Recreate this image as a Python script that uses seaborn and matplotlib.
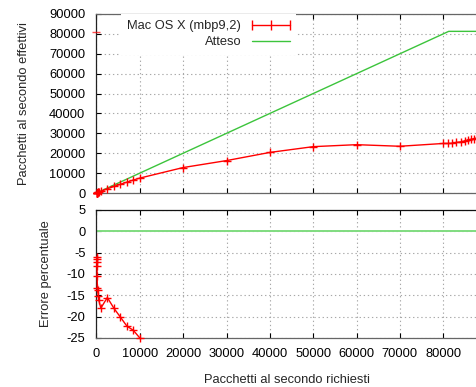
import numpy as np
import pandas as pd
import matplotlib
matplotlib.use("Agg")
import matplotlib.pyplot as plt
import seaborn as sns
from matplotlib.lines import Line2D
from matplotlib.legend_handler import HandlerLine2D

# Pacchetti al secondo richiesti / effettivi (Mac OS X, mbp9,2)
richiesti = [10, 25, 50, 100, 150, 200, 300, 400, 550, 1000,
             2500, 4000, 5500, 7000, 8500, 10000,
             20000, 30000, 40000, 50000, 60000, 70000, 80000,
             81000, 82000, 83000, 84000, 85000, 85700, 86500, 87200, 87800]
effettivi = [9.4, 23.4, 46.4, 91.9, 134.3, 173.6, 258.9, 339.6, 460.9, 820,
             2112, 3280, 4395, 5446, 6528, 7500,
             12800, 16300, 20400, 23300, 24300, 23500, 24900,
             24900, 25000, 25400, 25700, 26200, 26700, 27000, 27400, 27600]

# punto isolato vicino all'asse y
isolato_x = [0]
isolato_y = [81000]

# rate atteso: cresce col richiesto fino al limite del link
atteso_x = [0, 81274, 87800]
atteso_y = [0, 81274, 81274]
atteso_err_x = [0, 87800]
atteso_err_y = [0, 0]

yticks_top = [0, 10000, 20000, 30000, 40000, 50000, 60000, 70000, 80000, 90000]
yticks_bot = [-25, -20, -15, -10, -5, 0, 5]
xticks = [0, 10000, 20000, 30000, 40000, 50000, 60000, 70000, 80000]

FS = 9.3
sns.set_theme(style="ticks")
plt.rcParams["font.family"] = ["Liberation Sans", "DejaVu Sans"]
plt.rcParams.update({
    "font.size": FS,
    "axes.labelsize": FS,
    "xtick.labelsize": FS,
    "ytick.labelsize": FS,
    "legend.fontsize": FS,
})

RED = "#ff0000"
GREEN = "#3cc43c"
GREEN0 = "#80dc80"
GRID = "#a8a8a8"

df = pd.DataFrame({"richiesti": richiesti, "effettivi": effettivi})
df["errore"] = (df["effettivi"] - df["richiesti"]) / df["richiesti"] * 100

W, H = 477, 387
fig = plt.figure(figsize=(W / 100, H / 100), dpi=100)


def px_axes(left, top, right, bottom):
    return fig.add_axes([left / W, 1 - bottom / H, (right - left) / W, (bottom - top) / H])


ax1 = px_axes(96.5, 14, 477, 193)
ax2 = px_axes(96.5, 210, 477, 338)
XMAX = 87800

# --- pannello superiore ---
sns.lineplot(x=atteso_x, y=atteso_y, ax=ax1, color=GREEN, lw=1.0, zorder=2)
sns.lineplot(data=df, x="richiesti", y="effettivi", ax=ax1, color=RED, lw=1.0,
             sort=False, estimator=None, zorder=3)
sns.scatterplot(data=df, x="richiesti", y="effettivi", ax=ax1, color=RED, marker="+",
                s=32, linewidth=1.0, zorder=4, clip_on=False)
sns.scatterplot(x=isolato_x, y=isolato_y, ax=ax1, color=RED, marker="_",
                s=36, linewidth=1.0, zorder=4, clip_on=False, alpha=0.7)

ax1.set_xlim(0, XMAX)
ax1.set_ylim(0, 90000)
ax1.set_yticks(yticks_top)
ax1.set_yticklabels([str(v) for v in yticks_top])
ax1.set_xticks(xticks)
ax1.tick_params(axis="x", labelbottom=False)
ax1.set_xlabel("")
ax1.set_ylabel("Pacchetti al secondo effettivi")
ax1.yaxis.set_label_coords(-0.1755, 0.5)

handles = [Line2D([], [], color=RED, lw=1.0, marker="|", markersize=7, markeredgewidth=1.0),
           Line2D([], [], color=GREEN, lw=1.0)]
leg = ax1.legend(handles, ["Mac OS X (mbp9,2)", "Atteso"], loc="upper right",
                 bbox_to_anchor=((296 - 96.5) / 380.5, 1.0), markerfirst=False,
                 numpoints=3, frameon=True, fancybox=False, framealpha=1.0,
                 handlelength=2.9, handletextpad=0.85, borderpad=0.5,
                 borderaxespad=0.0, labelspacing=0.3,
                 handler_map={Line2D: HandlerLine2D(marker_pad=0)})
leg.get_frame().set_edgecolor("none")
leg.get_frame().set_facecolor("white")

# --- pannello inferiore ---
sns.lineplot(x=atteso_err_x, y=atteso_err_y, ax=ax2, color=GREEN0, lw=1.4, zorder=2)
sns.lineplot(data=df, x="richiesti", y="errore", ax=ax2, color=RED, lw=1.0,
             sort=False, estimator=None, zorder=3)
vis = df[df["errore"] >= -25.5]
sns.scatterplot(data=vis, x="richiesti", y="errore", ax=ax2, color=RED, marker="+",
                s=32, linewidth=1.0, zorder=4, clip_on=False)

ax2.set_xlim(0, XMAX)
ax2.set_ylim(-25, 5)
ax2.set_yticks(yticks_bot)
ax2.set_yticklabels([str(v) for v in yticks_bot])
ax2.set_xticks(xticks)
ax2.set_xticklabels([str(v) for v in xticks])
ax2.set_xlabel("Pacchetti al secondo richiesti")
ax2.set_ylabel("Errore percentuale")
ax2.yaxis.set_label_coords(-0.118, 0.5)
ax2.xaxis.set_label_coords(0.5, -0.28)

for ax in (ax1, ax2):
    ax.grid(True, color=GRID, lw=0.8, linestyle=(0, (1.2, 2.5)))
    ax.set_axisbelow(True)
    ax.tick_params(direction="in", length=3.6, width=0.8, top=True, right=False,
                   labelsize=FS, colors="black")
    ax.tick_params(axis="y", pad=8.0)
    ax.tick_params(axis="x", pad=7.0)
    for side in ("top", "bottom"):
        ax.spines[side].set_color("#666666")
        ax.spines[side].set_linewidth(0.9)
    ax.spines["left"].set_color("#222222")
    ax.spines["left"].set_linewidth(0.9)
    ax.spines["right"].set_visible(False)
ax2.spines["top"].set_color("#111111")

fig.savefig("out.png", dpi=100)
